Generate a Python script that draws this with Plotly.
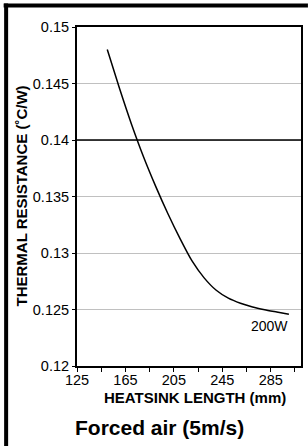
import plotly.graph_objects as go

# ---- data ----
lengths_mm = [150, 160, 170, 180, 190, 200, 210, 220, 230, 240, 250, 260, 270, 280, 290, 300]
resistance = [0.1480, 0.1446, 0.1414, 0.1385, 0.1359, 0.1335, 0.1313, 0.1293, 0.1278, 0.1267,
              0.1260, 0.12555, 0.12522, 0.12498, 0.12478, 0.12458]
x_tick_vals = [125, 165, 205, 245, 285]
x_tick_text = ["125", "165", "205", "245", "285"]
y_tick_vals = [0.12, 0.125, 0.13, 0.135, 0.14, 0.145, 0.15]
y_tick_text = ["0.12", "0.125", "0.13", "0.135", "0.14", "0.145", "0.15"]
ref_level = 0.14
series_label = "200W"
label_pos = (284, 0.1235)

W, H = 308, 446
L, R, T, B = 77, 5, 27, 80
pw, ph = W - L - R, H - T - B

def px2paper_x(px):
    return (px - L) / pw

def px2paper_y(py):
    return (H - B - py) / ph

FONT = "Liberation Sans, Arial, sans-serif"

fig = go.Figure()
fig.add_trace(go.Scatter(
    x=lengths_mm, y=resistance, mode="lines",
    line=dict(color="black", width=1.5, shape="spline", smoothing=0.6),
    showlegend=False, hoverinfo="skip"))

fig.add_shape(type="line", xref="x", yref="y", x0=125, x1=310, y0=ref_level, y1=ref_level,
              line=dict(color="black", width=1.5))

# outer frame (top and left edges)
fig.add_shape(type="line", xref="paper", yref="paper",
              x0=px2paper_x(3), x1=px2paper_x(310), y0=px2paper_y(5.5), y1=px2paper_y(5.5),
              line=dict(color="black", width=4))
fig.add_shape(type="line", xref="paper", yref="paper",
              x0=px2paper_x(5.5), x1=px2paper_x(5.5), y0=px2paper_y(3.5), y1=px2paper_y(450),
              line=dict(color="black", width=4))

fig.add_annotation(x=label_pos[0], y=label_pos[1], xref="x", yref="y", text=series_label,
                   showarrow=False, xanchor="center", yanchor="middle",
                   font=dict(family=FONT, size=14, color="black"))

fig.add_annotation(x=px2paper_x(20), y=px2paper_y(196), xref="paper", yref="paper",
                   text="<b>THERMAL RESISTANCE (˚C/W)</b>", textangle=-90, showarrow=False,
                   xanchor="center", yanchor="middle",
                   font=dict(family=FONT, size=15, color="black"))
fig.add_annotation(x=px2paper_x(196), y=px2paper_y(397), xref="paper", yref="paper",
                   text="<b>HEATSINK LENGTH (mm)</b>", showarrow=False,
                   xanchor="center", yanchor="middle",
                   font=dict(family=FONT, size=15, color="black"))
fig.add_annotation(x=px2paper_x(160), y=px2paper_y(428), xref="paper", yref="paper",
                   text="<b>Forced air (5m/s)</b>", showarrow=False,
                   xanchor="center", yanchor="middle",
                   font=dict(family=FONT, size=21, color="black"))

fig.update_xaxes(range=[125, 310], tickmode="array", tickvals=x_tick_vals, ticktext=x_tick_text,
                 ticks="outside", ticklen=4, tickcolor="black", tickwidth=1,
                 ticklabelstandoff=-4,
                 minor=dict(tickmode="linear", tick0=125, dtick=20, ticks="outside", ticklen=4,
                            tickcolor="black", tickwidth=1, showgrid=False),
                 showgrid=False, zeroline=False, showline=True, linecolor="black", linewidth=2,
                 mirror=True, tickfont=dict(family=FONT, size=14.5, color="black"))
fig.update_yaxes(range=[0.12, 0.15], tickmode="array", tickvals=y_tick_vals, ticktext=y_tick_text,
                 ticks="outside", ticklen=3, tickcolor="black",
                 showgrid=True, gridcolor="#c0c0c0", gridwidth=1, zeroline=False,
                 showline=True, linecolor="black", linewidth=2, mirror=True,
                 tickfont=dict(family=FONT, size=14.5, color="black"))

fig.update_layout(width=W, height=H, margin=dict(l=L, r=R, t=T, b=B, pad=0),
                  plot_bgcolor="white", paper_bgcolor="white", showlegend=False)

fig.write_html("out.html", config={"displayModeBar": False},
               post_script="document.body.style.margin='0';")
